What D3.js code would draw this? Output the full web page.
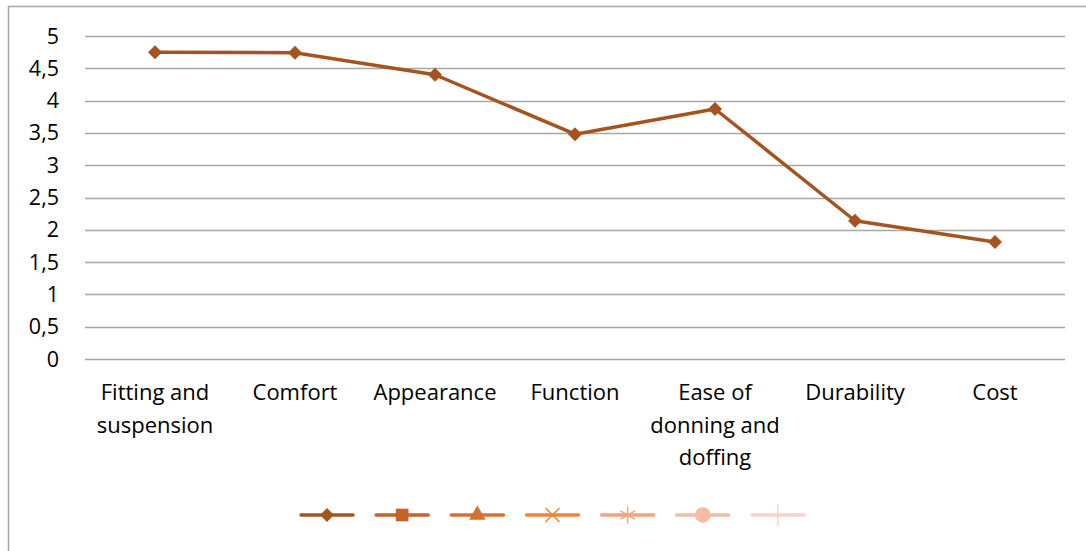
<!DOCTYPE html>
<html>
<head>
<meta charset="utf-8">
<script src="https://cdn.jsdelivr.net/npm/d3@7"></script>
<style>
  body { margin: 0; background: #fff; }
  svg text { font-family: "Open Sans", Lato, sans-serif; fill: #000; }
</style>
</head>
<body>
<div id="chart"></div>
<script>
const width = 1086;
const height = 551;

// chart data
const categories = ['Fitting and suspension', 'Comfort', 'Appearance', 'Function', 'Ease of donning and doffing', 'Durability', 'Cost'];
const values = [4.75, 4.74, 4.40, 3.48, 3.87, 2.14, 1.81];
const yTicks = [0, 0.5, 1, 1.5, 2, 2.5, 3, 3.5, 4, 4.5, 5];
// legend entries (series without names)
const legendColors = ['#A6541F', '#C5622B', '#D9702C', '#F0853A', '#F4A47E', '#F5BBA5', '#F8D3C8'];
const legendSymbols = ['diamond', 'square', 'triangle', 'x', 'star', 'circle', 'plus'];

const margin = { left: 85, right: 21, top: 36, bottom: 192 };

const svg = d3.select('#chart').append('svg').attr('width', width).attr('height', height);

// outer chart border
svg.append('rect')
  .attr('x', 8.5).attr('y', 6.5)
  .attr('width', width + 10).attr('height', height + 10)
  .attr('fill', 'none').attr('stroke', '#a6a6a6').attr('stroke-width', 1.5);

const x = d3.scaleBand().domain(categories).range([margin.left, width - margin.right]);
const y = d3.scaleLinear().domain([0, 5]).range([height - margin.bottom, margin.top]);

// gridlines
svg.append('g').selectAll('line')
  .data(yTicks)
  .enter()
  .append('line')
  .attr('x1', margin.left).attr('x2', width - margin.right)
  .attr('y1', d => Math.round(y(d)) + 0.5).attr('y2', d => Math.round(y(d)) + 0.5)
  .attr('stroke', '#a6a6a6').attr('stroke-width', 1.3);

// y labels
svg.append('g').selectAll('text')
  .data(yTicks)
  .enter()
  .append('text')
  .attr('x', 59)
  .attr('y', d => y(d))
  .attr('dy', '0.35em')
  .attr('text-anchor', 'end')
  .style('font-size', '21.5px')
  .text(d => String(d).replace('.', ','));

// x labels, wrapped to the band width
const xLabels = svg.append('g').selectAll('text')
  .data(categories)
  .enter()
  .append('text')
  .attr('x', d => x(d) + x.bandwidth() / 2)
  .attr('y', 400)
  .attr('text-anchor', 'middle')
  .style('font-size', '22px');

xLabels.each(function (d) {
  const text = d3.select(this);
  const words = d.split(' ');
  let line = [];
  let tspan = text.append('tspan').attr('x', x(d) + x.bandwidth() / 2).attr('dy', 0);
  words.forEach(w => {
    line.push(w);
    tspan.text(line.join(' '));
    if (tspan.node().getComputedTextLength() > 136 && line.length > 1) {
      line.pop();
      tspan.text(line.join(' '));
      line = [w];
      tspan = text.append('tspan').attr('x', x(d) + x.bandwidth() / 2).attr('dy', 32.5).text(w);
    }
  });
});

// series line
const line = d3.line()
  .x((d, i) => x(categories[i]) + x.bandwidth() / 2)
  .y(d => y(d));

svg.append('path')
  .datum(values)
  .attr('d', line)
  .attr('fill', 'none')
  .attr('stroke', legendColors[0])
  .attr('stroke-width', 3.5)
  .attr('stroke-linejoin', 'round');

const diamond = d3.symbol().type(d3.symbolDiamond2).size(125);

svg.append('g').selectAll('path')
  .data(values)
  .enter()
  .append('path')
  .attr('transform', (d, i) => `translate(${x(categories[i]) + x.bandwidth() / 2},${y(d)})`)
  .attr('d', diamond)
  .attr('fill', legendColors[0]);

// legend
const legendX = d3.scaleLinear().domain([0, legendColors.length - 1]).range([327, 778]);
const legendY = 515;
const symbolMap = {
  diamond: d3.symbol().type(d3.symbolDiamond2).size(125),
  square: d3.symbol().type(d3.symbolSquare).size(160),
  triangle: d3.symbol().type(d3.symbolTriangle).size(120),
  x: d3.symbol().type(d3.symbolTimes).size(130),
  star: d3.symbol().type(d3.symbolAsterisk).size(200),
  circle: d3.symbol().type(d3.symbolCircle).size(190),
  plus: d3.symbol().type(d3.symbolPlus).size(160)
};
const strokeOnly = ['x', 'star', 'plus'];

const legend = svg.append('g').selectAll('g')
  .data(legendColors)
  .enter()
  .append('g')
  .attr('transform', (d, i) => `translate(${legendX(i)},${legendY})`);

legend.append('line')
  .attr('x1', -26).attr('x2', 26)
  .attr('stroke', d => d)
  .attr('stroke-width', 3.5)
  .attr('stroke-linecap', 'round');

legend.append('path')
  .attr('d', (d, i) => symbolMap[legendSymbols[i]]())
  .attr('fill', (d, i) => strokeOnly.includes(legendSymbols[i]) ? 'none' : d)
  .attr('stroke', (d, i) => strokeOnly.includes(legendSymbols[i]) ? d : 'none')
  .attr('stroke-width', 1.5);
</script>
</body>
</html>
